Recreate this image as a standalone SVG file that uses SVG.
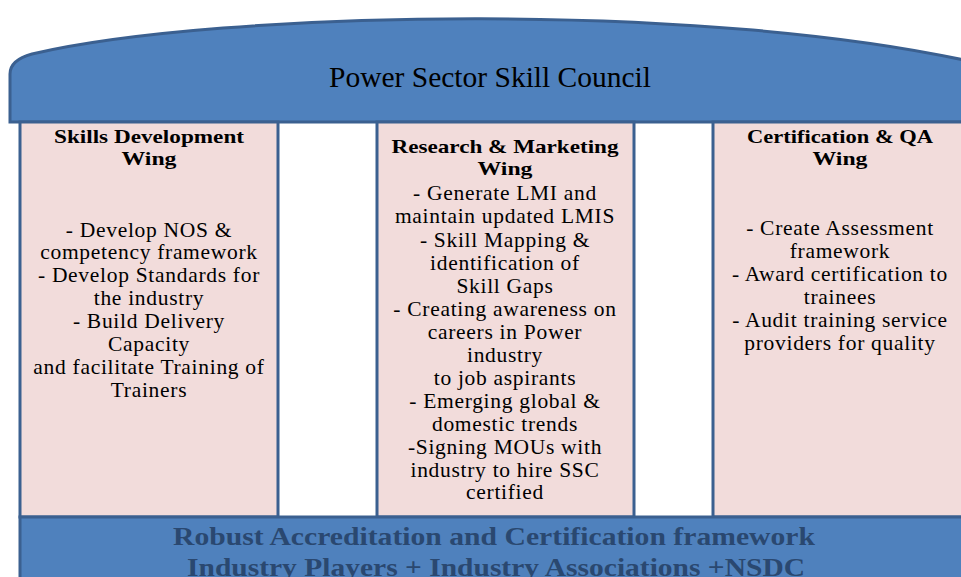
<svg xmlns="http://www.w3.org/2000/svg" width="961" height="577" viewBox="0 0 961 577">
<style>
.blue{fill:#4f81bd;stroke:#3b6090;stroke-width:3}
.col{fill:#f2dcdb;stroke:#3b6090;stroke-width:3}
.t{font-family:"Liberation Serif","Times New Roman",serif;fill:#000;text-anchor:middle}
.h{font-size:19px;font-weight:bold}
.b{font-size:21.5px;letter-spacing:0.7px}
.band{font-family:"Liberation Serif","Times New Roman",serif;font-size:26px;font-weight:bold;fill:#2a4870;text-anchor:middle}
</style>
<rect width="961" height="577" fill="#fff"/>
<g id="header">
<path class="blue" d="M10,122 L10,74 Q10,60 32,54 C 220,10 720,0 990,66 L990,122 Z"/>
<text class="t" x="490" y="87" font-size="29" textLength="322" lengthAdjust="spacingAndGlyphs">Power Sector Skill Council</text>
</g>
<g id="skills-wing">
<rect class="col" x="20" y="122" width="258" height="395"/>
<text class="t h" x="149" y="143" textLength="190" lengthAdjust="spacingAndGlyphs">Skills Development</text>
<text class="t h" x="149" y="165" textLength="55" lengthAdjust="spacingAndGlyphs">Wing</text>
<g class="t b">
<text x="149" y="237">- Develop NOS &amp;</text>
<text x="149" y="259">competency framework</text>
<text x="149" y="282">- Develop Standards for</text>
<text x="149" y="305">the industry</text>
<text x="149" y="328">- Build Delivery</text>
<text x="149" y="351">Capacity</text>
<text x="149" y="374">and facilitate Training of</text>
<text x="149" y="397">Trainers</text>
</g>
</g>
<g id="research-wing">
<rect class="col" x="377" y="122" width="257" height="395"/>
<text class="t h" x="505" y="153" textLength="227" lengthAdjust="spacingAndGlyphs">Research &amp; Marketing</text>
<text class="t h" x="505" y="175" textLength="55" lengthAdjust="spacingAndGlyphs">Wing</text>
<g class="t b">
<text x="505" y="200">- Generate LMI and</text>
<text x="505" y="223">maintain updated LMIS</text>
<text x="505" y="247">- Skill Mapping &amp;</text>
<text x="505" y="270">identification of</text>
<text x="505" y="293">Skill Gaps</text>
<text x="505" y="316">- Creating awareness on</text>
<text x="505" y="339">careers in Power</text>
<text x="505" y="362">industry</text>
<text x="505" y="385">to job aspirants</text>
<text x="505" y="408">- Emerging global &amp;</text>
<text x="505" y="431">domestic trends</text>
<text x="505" y="454">-Signing MOUs with</text>
<text x="505" y="477">industry to hire SSC</text>
<text x="505" y="499">certified</text>
</g>
</g>
<g id="certification-wing">
<rect class="col" x="713" y="122" width="270" height="395"/>
<text class="t h" x="840" y="143" textLength="186" lengthAdjust="spacingAndGlyphs">Certification &amp; QA</text>
<text class="t h" x="840" y="165" textLength="55" lengthAdjust="spacingAndGlyphs">Wing</text>
<g class="t b">
<text x="840" y="235">- Create Assessment</text>
<text x="840" y="258">framework</text>
<text x="840" y="281">- Award certification to</text>
<text x="840" y="304">trainees</text>
<text x="840" y="327">- Audit training service</text>
<text x="840" y="350">providers for quality</text>
</g>
</g>
<g id="foundation">
<rect class="blue" x="20" y="517" width="970" height="80"/>
<text class="band" x="494" y="545" textLength="642" lengthAdjust="spacingAndGlyphs">Robust Accreditation and Certification framework</text>
<text class="band" x="496" y="576" textLength="618" lengthAdjust="spacingAndGlyphs">Industry Players + Industry Associations +NSDC</text>
</g>
<g id="connectors"></g>
</svg>
